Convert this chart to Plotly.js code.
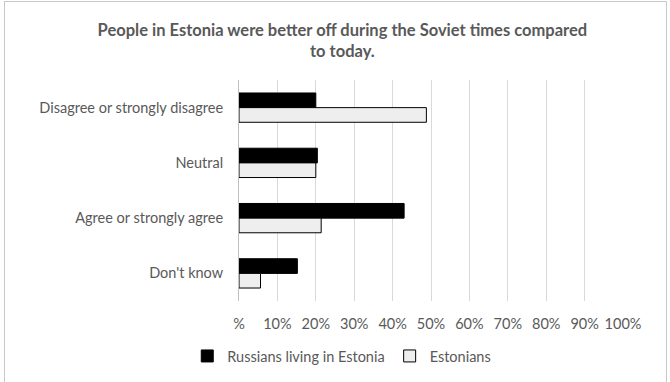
<!DOCTYPE html>
<html><head><meta charset="utf-8">
<script src="https://cdn.plot.ly/plotly-3.0.1.min.js"></script>
<style>
html,body{margin:0;padding:0;background:#fff;}
#wrap{position:relative;width:670px;height:382px;overflow:hidden;}
#frame{position:absolute;left:4px;top:1px;width:663px;height:400px;border:1px solid #c9c9c9;box-sizing:border-box;pointer-events:none;z-index:5;}
#chart{position:absolute;left:0;top:0;width:670px;height:382px;}
</style></head>
<body><div id="wrap"><div id="chart"></div><div id="frame"></div></div>
<script>
var categories = ["Disagree or strongly disagree", "Neutral", "Agree or strongly agree", "Don't know"];
var russians = [20, 20.4, 43, 15.2];
var estonians = [48.8, 20, 21.4, 5.6];
var tickVals = [0,10,20,30,40,50,60,70,80,90,100];
var tickText = ["%","10%","20%","30%","40%","50%","60%","70%","80%","90%","100%"];
var seriesNames = ["Russians living in Estonia", "Estonians"];

var font = "Lato, 'Open Sans', sans-serif";
var traces = [
  {type:"bar", orientation:"h", name:seriesNames[0], y:categories, x:russians,
   marker:{color:"#000000", line:{color:"#000000", width:1}}, hoverinfo:"x+y"},
  {type:"bar", orientation:"h", name:seriesNames[1], y:categories, x:estonians,
   marker:{color:"#eeeeee", line:{color:"#000000", width:1}}, hoverinfo:"x+y"}
];
var layout = {
  width:670, height:382,
  margin:{l:239, r:47, t:80, b:81},
  paper_bgcolor:"rgba(0,0,0,0)", plot_bgcolor:"#ffffff",
  font:{family:font, color:"#595959", size:14.5},
  title:{text:"<b>People in Estonia were better off during the Soviet times compared<br>to today.</b>",
         x:0.511, xref:"container", xanchor:"center", y:0.906, yref:"container", yanchor:"middle",
         font:{family:font, size:16.5, color:"#595959"}},
  barmode:"group", bargap:0.47, bargroupgap:0,
  xaxis:{range:[0,100], tickvals:tickVals, ticktext:tickText, showgrid:true, gridcolor:"#d9d9d9",
         gridwidth:1, zeroline:false, showline:false, ticks:"", ticklen:0, ticklabelstandoff:12,
         tickfont:{family:font, size:14.5, color:"#595959"}, fixedrange:true},
  yaxis:{autorange:"reversed", type:"category", showgrid:false, zeroline:false,
         showline:true, linecolor:"#bfbfbf", linewidth:1, ticks:"", ticklen:0,
         tickfont:{family:font, size:14.5, color:"#595959"}, ticklabelstandoff:12, fixedrange:true},
  legend:{orientation:"h", x:0.2795, xref:"container", xanchor:"left", y:0.068, yref:"container", yanchor:"middle",
          font:{family:font, size:14.5, color:"#595959"}, itemwidth:30, traceorder:"normal"},
  showlegend:true
};
Plotly.newPlot("chart", traces, layout, {displayModeBar:false, staticPlot:true});
</script></body></html>
